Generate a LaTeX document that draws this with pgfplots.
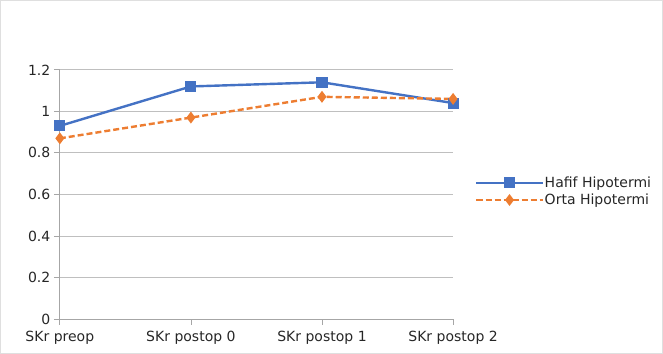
\documentclass[border=0pt]{standalone}
\usepackage{pgfplots}
\pgfplotsset{compat=1.18}
\usepackage{fontspec}
\setmainfont{DejaVu Sans}

\definecolor{hafif}{HTML}{4472C4}
\definecolor{orta}{HTML}{ED7D31}
\definecolor{gridgray}{HTML}{BFBFBF}
\definecolor{axgray}{HTML}{A6A6A6}

\pgfplotstableread{
x hafif orta
0 0.93 0.87
1 1.12 0.97
2 1.14 1.07
3 1.04 1.06
}\skr

\begin{document}
\begin{tikzpicture}
% outer chart frame
\draw[gray!25, line width=0.6bp] (0.5bp,0.5bp) rectangle (662.5bp,353.5bp);
\begin{axis}[
  at={(60bp,35bp)}, anchor=south west,
  scale only axis, width=393bp, height=249bp,
  xmin=0, xmax=3, ymin=0, ymax=1.2,
  axis lines*=left,
  axis line style={axgray, line width=0.8bp},
  xtick={0,1,2,3},
  xticklabels={SKr preop, SKr postop 0, SKr postop 1, SKr postop 2},
  ytick={0,0.2,0.4,0.6,0.8,1,1.2},
  yticklabels={0,0.2,0.4,0.6,0.8,1,1.2},
  tick align=outside,
  major tick length=6bp,
  tick style={axgray, line width=0.8bp},
  ymajorgrids,
  grid style={gridgray, line width=0.8bp},
  tick label style={font=\fontsize{14bp}{16bp}\selectfont, text=black!85},
  xticklabel style={anchor=north, yshift=-3bp},
  legend style={at={(1.056,0.512)}, anchor=west, draw=none, fill=none,
    inner sep=0pt, row sep=3bp,
    font=\fontsize{14bp}{16bp}\selectfont,
    nodes={inner sep=1bp, text=black!85}},
  legend cell align=left,
  legend image code/.code={%
    \draw[mark repeat=2, mark phase=2, #1]
      plot coordinates {(0bp,0bp) (33bp,0bp) (66bp,0bp)};},
  clip=false,
]
\addplot[hafif, line width=2.4bp, mark=square*, mark size=4.3bp,
  mark options={solid}] table[x=x, y=hafif] {\skr};
\addlegendentry{Hafif Hipotermi}
\addplot[orta, line width=2.4bp, dash pattern=on 6bp off 3bp, mark=diamond*,
  mark size=4bp, mark options={solid}] table[x=x, y=orta] {\skr};
\addlegendentry{Orta Hipotermi}
\end{axis}
\end{tikzpicture}
\end{document}
